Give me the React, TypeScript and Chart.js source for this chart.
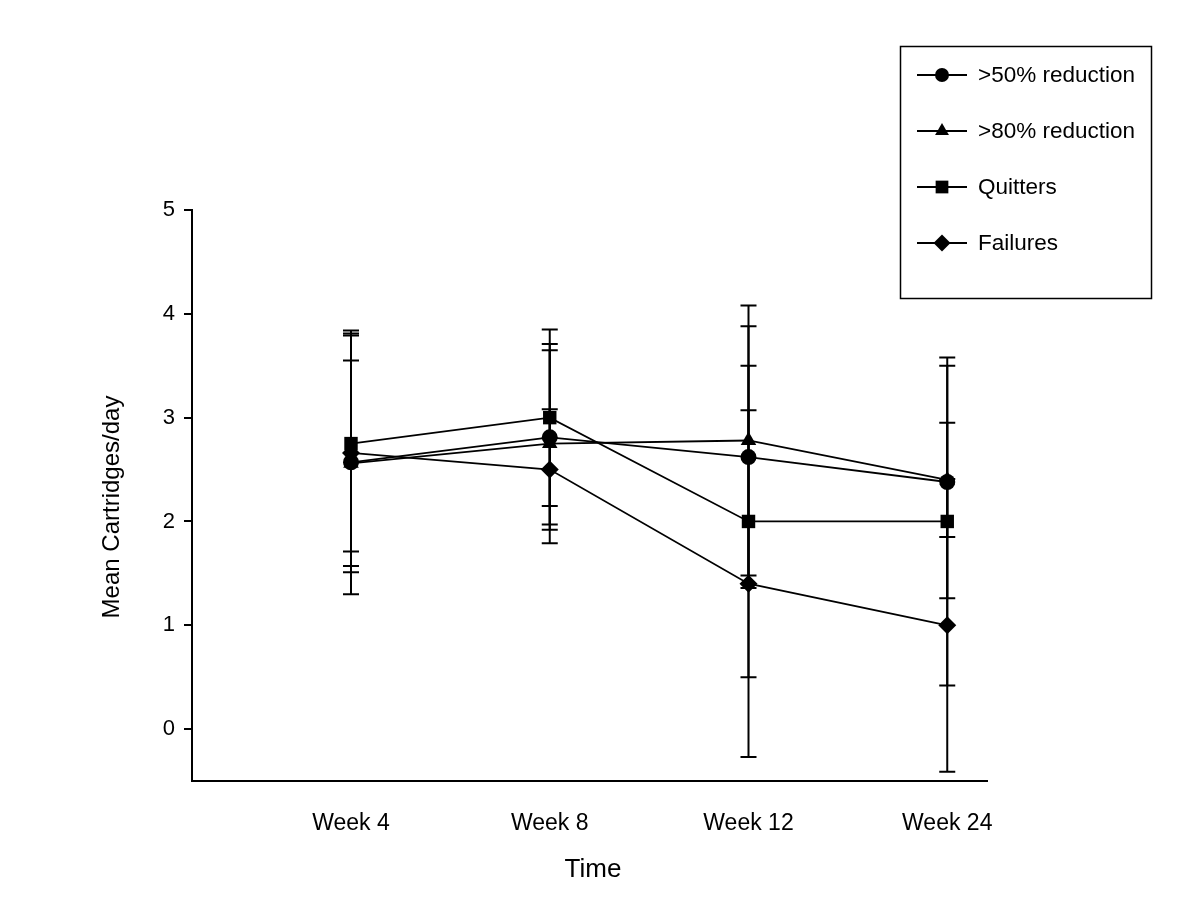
import React, { useEffect, useRef } from "react";
import { Chart, registerables } from "chart.js";

Chart.register(...registerables);

const categories = ["Week 4", "Week 8", "Week 12", "Week 24"];
const xValues = [1, 2, 3, 4];
const yTicks = [0, 1, 2, 3, 4, 5];

const seriesNames = [">50% reduction", ">80% reduction", "Quitters", "Failures"];
const pointStyles = ["circle", "triangle", "rect", "rectRot"];

const reduction50 = [2.57, 2.81, 2.62, 2.38];
const reduction50Sd = [1.27, 0.84, 1.26, 1.12];
const reduction80 = [2.56, 2.75, 2.78, 2.40];
const reduction80Sd = [0.99, 0.96, 1.30, 0.55];
const quitters = [2.75, 3.0, 2.0, 2.0];
const quittersSd = [1.04, 0.85, 1.5, 1.58];
const failures = [2.66, 2.5, 1.4, 1.0];
const failuresSd = [1.15, 0.58, 1.67, 1.41];

const FONT = "'Liberation Sans', Arial, sans-serif";

export default function App() {
  const ref = useRef<HTMLCanvasElement | null>(null);

  useEffect(() => {
    const canvas = ref.current;
    if (!canvas) return;
    const means = [reduction50, reduction80, quitters, failures];
    const sds = [reduction50Sd, reduction80Sd, quittersSd, failuresSd];
    const radii = [8, 9, 9.5, 9];

    const errorBars = {
      id: "errorBars",
      beforeDatasetsDraw(chart: any) {
        const { ctx, scales } = chart;
        ctx.save();
        ctx.strokeStyle = "#000";
        ctx.lineWidth = 2;
        means.forEach((m, si) => {
          m.forEach((v, i) => {
            const x = scales.x.getPixelForValue(xValues[i]);
            const yHi = scales.y.getPixelForValue(v + sds[si][i]);
            const yLo = scales.y.getPixelForValue(v - sds[si][i]);
            ctx.beginPath();
            ctx.moveTo(x, yHi);
            ctx.lineTo(x, yLo);
            ctx.moveTo(x - 8, yHi);
            ctx.lineTo(x + 8, yHi);
            ctx.moveTo(x - 8, yLo);
            ctx.lineTo(x + 8, yLo);
            ctx.stroke();
          });
        });
        ctx.restore();
      },
    };

    function drawMarker(ctx: CanvasRenderingContext2D, style: string, x: number, y: number, r: number) {
      ctx.beginPath();
      if (style === "circle") {
        ctx.arc(x, y, r, 0, Math.PI * 2);
      } else if (style === "triangle") {
        ctx.moveTo(x, y - r);
        ctx.lineTo(x + r * 0.866, y + r * 0.5);
        ctx.lineTo(x - r * 0.866, y + r * 0.5);
        ctx.closePath();
      } else if (style === "rect") {
        const s = r * Math.SQRT1_2;
        ctx.rect(x - s, y - s, 2 * s, 2 * s);
      } else {
        ctx.moveTo(x, y - r);
        ctx.lineTo(x + r, y);
        ctx.lineTo(x, y + r);
        ctx.lineTo(x - r, y);
        ctx.closePath();
      }
      ctx.fill();
    }

    const extras = {
      id: "extras",
      afterDraw(chart: any) {
        const { ctx } = chart;
        ctx.save();
        ctx.fillStyle = "#000";
        ctx.strokeStyle = "#000";
        ctx.font = `24px ${FONT}`;
        ctx.textAlign = "center";
        ctx.textBaseline = "middle";
        ctx.save();
        ctx.translate(112, 507);
        ctx.rotate(-Math.PI / 2);
        ctx.fillText("Mean Cartridges/day", 0, 0);
        ctx.restore();
        ctx.font = `26px ${FONT}`;
        ctx.fillText("Time", 593, 870);

        ctx.lineWidth = 1.5;
        ctx.strokeRect(900.5, 46.5, 251, 252);
        const rows = [75, 131, 187, 243];
        const lr = [7, 8, 9, 8.5];
        ctx.font = `22.5px ${FONT}`;
        ctx.textAlign = "left";
        seriesNames.forEach((name, i) => {
          const y = rows[i];
          ctx.lineWidth = 2;
          ctx.beginPath();
          ctx.moveTo(917, y);
          ctx.lineTo(967, y);
          ctx.stroke();
          drawMarker(ctx, pointStyles[i], 942, y, lr[i]);
          ctx.fillText(name, 978, y + 1);
        });
        ctx.restore();
      },
    };

    const chart = new Chart(canvas, {
      type: "line",
      data: {
        datasets: means.map((m, si) => ({
          label: seriesNames[si],
          data: m.map((v, i) => ({ x: xValues[i], y: v })),
          borderColor: "#000",
          backgroundColor: "#000",
          borderWidth: 1.8,
          pointStyle: pointStyles[si] as any,
          pointRadius: radii[si],
          pointBackgroundColor: "#000",
          pointBorderColor: "#000",
          pointBorderWidth: 0,
          tension: 0,
        })),
      },
      options: {
        responsive: false,
        animation: false,
        devicePixelRatio: 1,
        layout: { padding: { top: 210, right: 213, left: 0, bottom: 0 } },
        plugins: { legend: { display: false }, tooltip: { enabled: false } },
        scales: {
          x: {
            type: "linear",
            min: 0.2,
            max: 4.2,
            afterBuildTicks: (s: any) => {
              s.ticks = xValues.map((v) => ({ value: v }));
            },
            afterFit: (s: any) => {
              s.height = 121;
            },
            ticks: {
              callback: (_v: any, i: number) => categories[i],
              font: { family: FONT, size: 23 },
              color: "#000",
              padding: 29,
              maxRotation: 0,
              autoSkip: false,
            },
            grid: { drawOnChartArea: false, drawTicks: false },
            border: { display: true, color: "#000", width: 2 },
          },
          y: {
            type: "linear",
            min: -0.5,
            max: 5,
            afterBuildTicks: (s: any) => {
              s.ticks = yTicks.map((v) => ({ value: v }));
            },
            afterFit: (s: any) => {
              s.width = 192;
            },
            ticks: {
              font: { family: FONT, size: 22 },
              color: "#000",
              padding: 9,
            },
            grid: { drawOnChartArea: false, drawTicks: true, tickLength: 8, color: "#000", lineWidth: 2 },
            border: { display: true, color: "#000", width: 2 },
          },
        },
      },
      plugins: [errorBars, extras],
    });
    return () => chart.destroy();
  }, []);

  return (
    <div style={{ position: "absolute", left: 0, top: 0, width: 1200, height: 902, background: "#fff" }}>
      <canvas ref={ref} width={1200} height={902} style={{ width: 1200, height: 902 }} />
    </div>
  );
}
